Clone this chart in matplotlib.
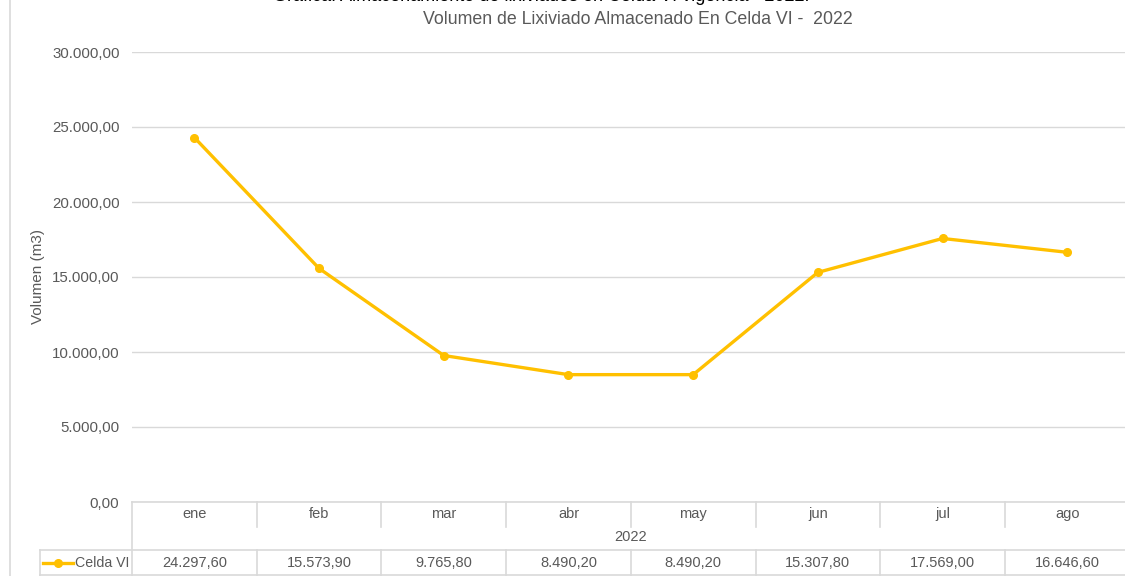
import matplotlib
matplotlib.use("Agg")
import matplotlib.pyplot as plt
import matplotlib.transforms as mtransforms
from matplotlib.lines import Line2D
import numpy as np

matplotlib.rcParams['font.family'] = ['Liberation Sans', 'DejaVu Sans']

### data
months = ['ene', 'feb', 'mar', 'abr', 'may', 'jun', 'jul', 'ago']
year_label = '2022'
series_name = 'Celda VI'
volumes = [24297.60, 15573.90, 9765.80, 8490.20, 8490.20, 15307.80, 17569.00, 16646.60]
yticks = [0, 5000, 10000, 15000, 20000, 25000, 30000]

title = 'Gráfica: Almacenamiento de lixiviados en Celda VI vigencia - 2022.'
subtitle = 'Volumen de Lixiviado Almacenado En Celda VI -  2022'
ylabel = 'Volumen (m3)'

line_col = '#FFC000'
txt_col = '#595959'
grid_col = '#D9D9D9'

W, H = 1125, 576


def es_fmt(v):
    # spanish number format 24.297,60
    return f"{v:,.2f}".replace(',', 'X').replace('.', ',').replace('X', '.')


def fy(p):
    # pixel from top -> figure fraction
    return (H - p) / H


fig = plt.figure(figsize=(W / 100, H / 100), dpi=100)
col_w = 124.7
ax = fig.add_axes([132 / W, fy(502), 8 * col_w / W, 450 / H])

x = np.arange(len(months))
ax.plot(x, volumes, color=line_col, lw=2.4, marker='o', ms=5.5, zorder=3)

ax.set_xlim(-0.5, len(months) - 0.5)
ax.set_ylim(0, 30000)
ax.set_yticks(yticks)
ax.set_yticklabels([es_fmt(v) for v in yticks], color=txt_col, fontsize=10.8)
ax.set_xticks([])
ax.tick_params(axis='y', length=0, pad=9)
ax.grid(axis='y', color=grid_col, lw=1)
ax.set_axisbelow(True)
for s in ax.spines.values():
    s.set_visible(False)

fig.text(38 / W, fy(277), ylabel, rotation=90, ha='center', va='center',
         color=txt_col, fontsize=11)

# titles (top one is cut off by the image edge, as in the original)
fig.text(541 / W, fy(1), title, ha='center', va='baseline', color='black', fontsize=13)
fig.text(638 / W, fy(19), subtitle, ha='center', va='center', color=txt_col, fontsize=12.8)

# left border of the chart object
fig.add_artist(Line2D([10 / W, 10 / W], [0, 1], color=grid_col, lw=1.2))

# data table under the axis
tr = mtransforms.blended_transform_factory(ax.transData, fig.transFigure)
xr = len(months) - 0.5
lk = dict(color=grid_col, lw=1.2, clip_on=False, transform=tr)
ax.plot([-0.5, xr], [fy(502), fy(502)], **lk)
ax.plot([-0.5, -0.5], [fy(502), fy(576)], **lk)
for i in range(1, len(months)):
    ax.plot([i - 0.5, i - 0.5], [fy(502), fy(527)], **lk)
    ax.plot([i - 0.5, i - 0.5], [fy(550), fy(576)], **lk)
fig.add_artist(Line2D([40 / W, 1], [fy(550), fy(550)], color=grid_col, lw=1.2))
fig.add_artist(Line2D([40 / W, 1], [fy(575), fy(575)], color=grid_col, lw=1.2))
fig.add_artist(Line2D([40 / W, 40 / W], [fy(550), fy(576)], color=grid_col, lw=1.2))

for i, m in enumerate(months):
    ax.text(i, fy(514), m, transform=tr, ha='center', va='center',
            color=txt_col, fontsize=10.5, clip_on=False)
    ax.text(i, fy(563), es_fmt(volumes[i]), transform=tr, ha='center', va='center',
            color=txt_col, fontsize=10.5, clip_on=False)
ax.text((len(months) - 1) / 2, fy(537), year_label, transform=tr, ha='center',
        va='center', color=txt_col, fontsize=10.5, clip_on=False)

# legend key in the table
fig.add_artist(Line2D([43 / W, 73 / W], [fy(563), fy(563)], color=line_col, lw=2.4))
fig.add_artist(Line2D([58 / W], [fy(563)], color=line_col, marker='o', ms=5.5, lw=0))
fig.text(75 / W, fy(563), series_name, ha='left', va='center', color=txt_col, fontsize=10.2)

fig.savefig('out.png', dpi=100)
